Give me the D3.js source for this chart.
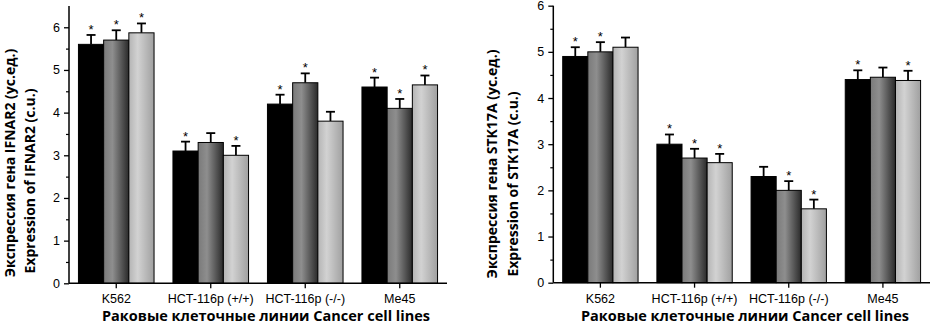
<!DOCTYPE html>
<html>
<head>
<meta charset="utf-8">
<script src="https://cdn.jsdelivr.net/npm/d3@7"></script>
<style>
body { margin: 0; background: #fff; }
svg { display: block; }
.tick text { font-family: "Liberation Sans", Arial, sans-serif; font-size: 12.5px; fill: #000; }
.title { font-family: "Open Sans", sans-serif; font-weight: 700; fill: #000; }
</style>
</head>
<body>
<script>
var groups = ["K562", "HCT-116p (+/+)", "HCT-116p (-/-)", "Me45"]

var ifnarValues = [[5.6, 5.7, 5.87], [3.1, 3.3, 3.0], [4.2, 4.7, 3.8], [4.6, 4.1, 4.65]]
var ifnarErrors = [[0.22, 0.23, 0.22], [0.22, 0.22, 0.22], [0.22, 0.22, 0.22], [0.22, 0.22, 0.22]]
var ifnarStars = [[1, 1, 1], [1, 0, 1], [1, 1, 0], [1, 1, 1]]

var stkValues = [[4.9, 5.0, 5.1], [3.0, 2.7, 2.6], [2.3, 2.0, 1.6], [4.4, 4.45, 4.38]]
var stkErrors = [[0.2, 0.21, 0.21], [0.21, 0.2, 0.19], [0.21, 0.2, 0.2], [0.2, 0.21, 0.21]]
var stkStars = [[1, 1, 0], [1, 1, 1], [0, 1, 1], [1, 0, 1]]

var yTicks = [0, 1, 2, 3, 4, 5, 6]
var yMinor = [0.5, 1.5, 2.5, 3.5, 4.5, 5.5]

var yTitleRu = ["Экспрессия гена IFNAR2 (ус.ед.)", "Экспрессия гена STK17A (ус.ед.)"]
var yTitleEn = ["Expression of IFNAR2 (c.u.)", "Expression of STK17A (c.u.)"]
var xTitle = "Раковые клеточные линии Cancer cell lines"

var svg = d3.select("body").append("svg")
  .attr("width", 931)
  .attr("height", 325)

var defs = svg.append("defs")
function grad(id, stops) {
  var g = defs.append("linearGradient").attr("id", id)
    .attr("x1", "0%").attr("x2", "100%").attr("y1", "0%").attr("y2", "0%")
  stops.forEach(function(s) {
    g.append("stop").attr("offset", s[0]).attr("stop-color", s[1])
  })
}
grad("g1", [["0%", "#7a7a7a"], ["35%", "#8e8e8e"], ["100%", "#2a2a2a"]])
grad("g2", [["0%", "#b4b4b4"], ["35%", "#d2d2d2"], ["100%", "#a0a0a0"]])
var fills = ["#000", "url(#g1)", "url(#g2)"]

function panel(p) {
  var g = svg.append("g")

  var x = d3.scaleBand().domain(groups).range([p.left, p.right])
    .paddingInner(0.2).paddingOuter(0.1)
  var sub = d3.scaleBand().domain([0, 1, 2]).range([0, x.bandwidth()])
  var y = d3.scaleLinear().domain([0, p.max]).range([p.y0, p.y0 - p.max * p.unit])

  // bars
  p.values.forEach(function(vals, gi) {
    var gg = g.append("g")
    vals.forEach(function(v, i) {
      var cx = x(groups[gi]) + sub(i) + sub.bandwidth() / 2
      var top = y(v + p.errors[gi][i])
      gg.append("line")
        .attr("x1", cx).attr("x2", cx)
        .attr("y1", y(v)).attr("y2", top)
        .attr("stroke", "#000").attr("stroke-width", 1.8)
      gg.append("line")
        .attr("x1", cx - 4.5).attr("x2", cx + 4.5)
        .attr("y1", top).attr("y2", top)
        .attr("stroke", "#000").attr("stroke-width", 1.8)
      gg.append("rect")
        .attr("x", x(groups[gi]) + sub(i))
        .attr("width", sub.bandwidth())
        .attr("y", y(v))
        .attr("height", y(0) - y(v))
        .attr("fill", fills[i])
        .attr("stroke", "#000")
        .attr("stroke-width", 1)
      if (p.stars[gi][i]) {
        gg.append("text")
          .attr("x", cx).attr("y", top - 1)
          .attr("text-anchor", "middle")
          .attr("font-family", "Liberation Sans, Arial, sans-serif")
          .attr("font-size", 13)
          .text("*")
      }
    })
  })

  // y axis
  var ya = g.append("g").attr("transform", "translate(" + p.left + ",0)")
    .call(d3.axisLeft(y).tickValues(yTicks).tickSize(5).tickPadding(4).tickFormat(d3.format("d")))
  ya.select(".domain").attr("stroke-width", 1.5).attr("d", "M0," + y(p.max) + "V" + y(0))
  ya.selectAll(".tick line").attr("stroke-width", 1.3)
  g.append("g").attr("transform", "translate(" + p.left + ",0)")
    .call(d3.axisLeft(y).tickValues(yMinor).tickSize(3).tickFormat(""))
    .call(function(s) { s.select(".domain").remove() })
    .selectAll("line").attr("stroke-width", 1.2)

  // x axis
  var xa = g.append("g").attr("transform", "translate(0," + y(0) + ")")
    .call(d3.axisBottom(x).tickSize(5).tickPadding(6))
  xa.select(".domain").attr("stroke-width", 1.5).attr("d", "M" + p.left + ",0H" + p.right)
  xa.selectAll(".tick line").attr("stroke-width", 1.3)

  // titles
  g.append("text").attr("class", "title")
    .attr("transform", "translate(" + p.tx1 + "," + p.ty1 + ") rotate(-90)")
    .attr("text-anchor", "middle").attr("font-size", 14)
    .text(p.ru)
  g.append("text").attr("class", "title")
    .attr("transform", "translate(" + p.tx2 + "," + p.ty2 + ") rotate(-90)")
    .attr("text-anchor", "middle").attr("font-size", 14)
    .text(p.en)
  g.append("text").attr("class", "title")
    .attr("x", p.xt).attr("y", 321)
    .attr("text-anchor", "middle").attr("font-size", 14.5)
    .text(xTitle)
}

panel({
  left: 69, right: 447, y0: 283.3, unit: 42.67, max: 6.5,
  values: ifnarValues, errors: ifnarErrors, stars: ifnarStars,
  ru: yTitleRu[0], en: yTitleEn[0],
  tx1: 14.5, ty1: 163, tx2: 34.5, ty2: 181, xt: 266
})
panel({
  left: 553.3, right: 930, y0: 282.7, unit: 46.17, max: 6,
  values: stkValues, errors: stkErrors, stars: stkStars,
  ru: yTitleRu[1], en: yTitleEn[1],
  tx1: 497, ty1: 164, tx2: 518, ty2: 184, xt: 745
})
</script>
</body>
</html>
